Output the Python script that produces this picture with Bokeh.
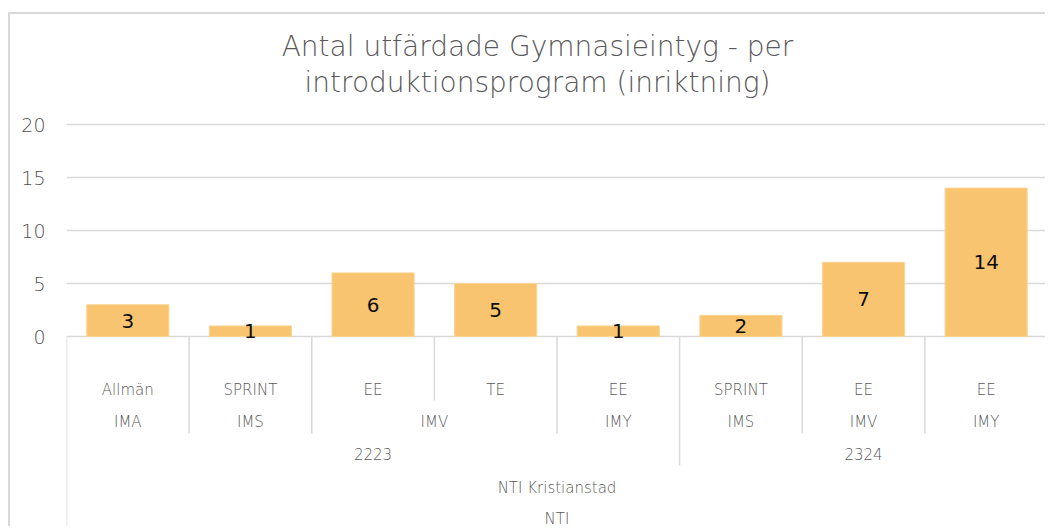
from bokeh.plotting import figure
from bokeh.models import Range1d, FixedTicker, Label
from bokeh.core.properties import value
from bokeh.embed import file_html
from bokeh.resources import INLINE

# ---------------- data ----------------
inriktning = ["Allmän", "SPRINT", "EE", "TE", "EE", "SPRINT", "EE", "EE"]
program = ["IMA", "IMS", "IMV", "IMV", "IMY", "IMS", "IMV", "IMY"]
year = ["2223", "2223", "2223", "2223", "2223", "2324", "2324", "2324"]
school = ["NTI Kristianstad"] * 8
org = ["NTI"] * 8
counts = [3, 1, 6, 5, 1, 2, 7, 14]
y_ticks = [0, 5, 10, 15, 20]
title_lines = ["Antal utfärdade Gymnasieintyg - per",
               "introduktionsprogram (inriktning)"]

# ---------------- layout (page pixels) ----------------
FONT = "DejaVu Sans Light"
FONT_REG = "DejaVu Sans"
GREY = "#595959"
LINE = "#d9d9d9"
BAR = "#F9C46F"
PX_LEFT, PX_RIGHT = 66, 1047
PX_ZERO, PX_PER_UNIT = 336, 10.6
CANVAS_LEFT, CANVAS_TOP, CANVAS_BOTTOM = 10, 14, 528
n = len(counts)
cat_w = (PX_RIGHT - PX_LEFT) / n


def ty(py):
    return (PX_ZERO - py) / PX_PER_UNIT


def tx(px):
    return (px - PX_LEFT) / cat_w


levels = [inriktning, program, year, school, org]
row_centers = [389, 421, 453, 487, 518]
row_bottoms = [400, 433, 465, CANVAS_BOTTOM, CANVAS_BOTTOM]

p = figure(width=PX_RIGHT - CANVAS_LEFT, height=CANVAS_BOTTOM - CANVAS_TOP,
           x_range=Range1d(0, n),
           y_range=Range1d(ty(CANVAS_BOTTOM), ty(CANVAS_TOP)),
           output_backend="svg", toolbar_location=None,
           min_border_left=PX_LEFT - CANVAS_LEFT, min_border_right=0,
           min_border_top=0, min_border_bottom=0)
p.styles = {"border-left": "2px solid " + LINE, "border-top": "2px solid " + LINE,
            "margin-left": "8px", "margin-top": "12px"}
p.outline_line_color = None
p.xaxis.visible = False
p.xgrid.visible = False

p.yaxis.ticker = FixedTicker(ticks=y_ticks)
p.yaxis.axis_line_color = None
p.yaxis.major_tick_line_color = None
p.yaxis.minor_tick_line_color = None
p.yaxis.major_tick_in = 0
p.yaxis.major_tick_out = 0
p.yaxis.major_label_standoff = 21
p.yaxis.major_label_text_font = FONT
p.yaxis.major_label_text_font_size = "19px"
p.yaxis.major_label_text_color = "#505050"
p.ygrid.ticker = FixedTicker(ticks=y_ticks)
p.ygrid.bounds = (min(y_ticks), max(y_ticks))
p.ygrid.grid_line_color = LINE
p.ygrid.grid_line_width = 1.5

centers = [i + 0.5 for i in range(n)]
p.vbar(x=centers, top=counts, bottom=0, width=0.67, fill_color=BAR,
       line_color="#FCD596", line_width=1)

p.text(x=centers, y=[c / 2 for c in counts], text=[str(c) for c in counts],
       text_font=value(FONT_REG), text_font_size="20px", text_color="#0d0d0d",
       text_align="center", text_baseline="middle")

# multi-level category axis
for k, lev in enumerate(levels):
    runs = []
    for i in range(n):
        key = tuple(levels[j][i] for j in range(k, len(levels)))
        if runs and runs[-1][0] == key:
            runs[-1][2] = i + 1
        else:
            runs.append([key, i, i + 1])
    xs = [(r[1] + r[2]) / 2 for r in runs]
    labels = [r[0][0] for r in runs]
    p.text(x=xs, y=[ty(row_centers[k])] * len(xs), text=labels,
           text_font=value(FONT), text_font_size="15px", text_color=GREY,
           text_align="center", text_baseline="middle")

# separators
sx, sy = [], []
for b in range(n + 1):
    if b == 0 or b == n:
        depth = len(levels) - 1
    else:
        depth = 0
        for k in range(len(levels)):
            a = tuple(levels[j][b - 1] for j in range(k, len(levels)))
            c = tuple(levels[j][b] for j in range(k, len(levels)))
            if a != c:
                depth = k
    sx.append(b)
    sy.append(ty(row_bottoms[depth]))
p.segment(x0=sx, y0=[0] * len(sx), x1=sx, y1=sy, line_color=LINE, line_width=1.5)

for i, t in enumerate(title_lines):
    p.add_layout(Label(x=tx(537), y=ty(46 + 36 * i), text=t, text_font=FONT,
                       text_font_size="28px", text_color=GREY,
                       text_align="center", text_baseline="middle"))

open("out.html", "w").write(file_html(p, INLINE))
